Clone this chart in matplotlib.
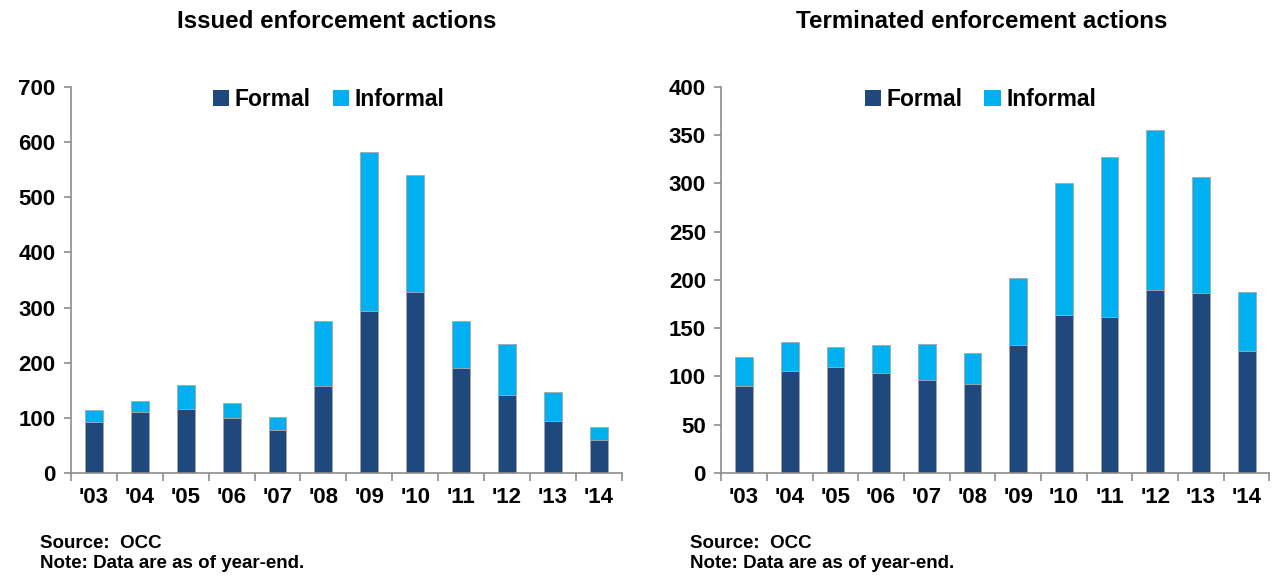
import numpy as np
import matplotlib
matplotlib.use("Agg")
import matplotlib.pyplot as plt
from matplotlib.patches import Patch

# -----------------------------
# Data
# -----------------------------
years = ["'03", "'04", "'05", "'06", "'07", "'08", "'09", "'10", "'11", "'12", "'13", "'14"]

issued_formal = [93, 110, 116, 100, 77, 157, 293, 328, 191, 142, 95, 60]
issued_total = [114, 130, 159, 127, 102, 276, 582, 541, 276, 234, 146, 84]

term_formal = [90, 106, 110, 104, 96, 92, 133, 164, 162, 190, 186, 126]
term_total = [120, 136, 130, 133, 134, 124, 202, 300, 327, 355, 307, 187]

issued_informal = [t - f for t, f in zip(issued_total, issued_formal)]
term_informal = [t - f for t, f in zip(term_total, term_formal)]

# -----------------------------
# Style
# -----------------------------
FORMAL = "#1F497D"
INFORMAL = "#00B0F0"
AXIS = "#8C8C8C"
FONT = ["Liberation Sans", "DejaVu Sans"]

plt.rcParams["font.family"] = FONT


def draw_panel(ax, formal, informal, ymax, ystep, leg_x):
    x = np.arange(len(years))
    ax.bar(x, formal, width=0.39, color=FORMAL, edgecolor="#A6A6A6", linewidth=0.6)
    ax.bar(x, informal, bottom=formal, width=0.39, color=INFORMAL,
           edgecolor="#A6A6A6", linewidth=0.6)

    ax.set_xlim(-0.5, len(years) - 0.5)
    ax.set_ylim(0, ymax)
    ax.set_yticks(np.arange(0, ymax + 1, ystep))

    # category ticks sit between bars, labels centred on bars
    ax.set_xticks(np.arange(-0.5, len(years), 1.0))
    ax.set_xticklabels([])
    ax.set_xticks(x, minor=True)
    ax.set_xticklabels(years, minor=True, fontsize=16, fontweight="bold")
    ax.tick_params(axis="x", which="minor", length=0, pad=10)
    ax.tick_params(axis="x", which="major", length=6, color=AXIS, width=1.2)
    ax.tick_params(axis="y", length=5, color=AXIS, width=1.2, labelsize=16, pad=6)
    for lbl in ax.get_yticklabels():
        lbl.set_fontweight("bold")

    for side in ["top", "right"]:
        ax.spines[side].set_visible(False)
    for side in ["left", "bottom"]:
        ax.spines[side].set_color(AXIS)
        ax.spines[side].set_linewidth(1.2)

    handles = [Patch(facecolor=FORMAL), Patch(facecolor=INFORMAL)]
    ax.legend(handles, ["Formal", "Informal"], loc="upper center",
              bbox_to_anchor=(leg_x, 1.05), ncol=2, frameon=False,
              handlelength=0.7, handleheight=0.7, handletextpad=0.25,
              columnspacing=0.95, prop={"size": 16.5, "weight": "bold"})


fig = plt.figure(figsize=(12.72, 5.76), dpi=100)
ax1 = fig.add_axes([0.0558, 0.179, 0.433, 0.670])
ax2 = fig.add_axes([0.567, 0.179, 0.431, 0.670])

draw_panel(ax1, issued_formal, issued_informal, 700, 100, 0.468)
draw_panel(ax2, term_formal, term_informal, 400, 50, 0.473)

fig.text(337 / 1272, 1 - 22 / 576, "Issued enforcement actions", ha="center",
         va="center", fontsize=17.4, fontweight="bold")
fig.text(982 / 1272, 1 - 22 / 576, "Terminated enforcement actions", ha="center",
         va="center", fontsize=17.4, fontweight="bold")

for xpos in [40 / 1272, 690 / 1272]:
    fig.text(xpos, 1 - 543 / 576, "Source:  OCC", fontsize=13.5, fontweight="bold",
             va="center")
    fig.text(xpos, 1 - 564 / 576, "Note: Data are as of year-end.", fontsize=13.5,
             fontweight="bold", va="center")

fig.savefig("out.png", dpi=100)
